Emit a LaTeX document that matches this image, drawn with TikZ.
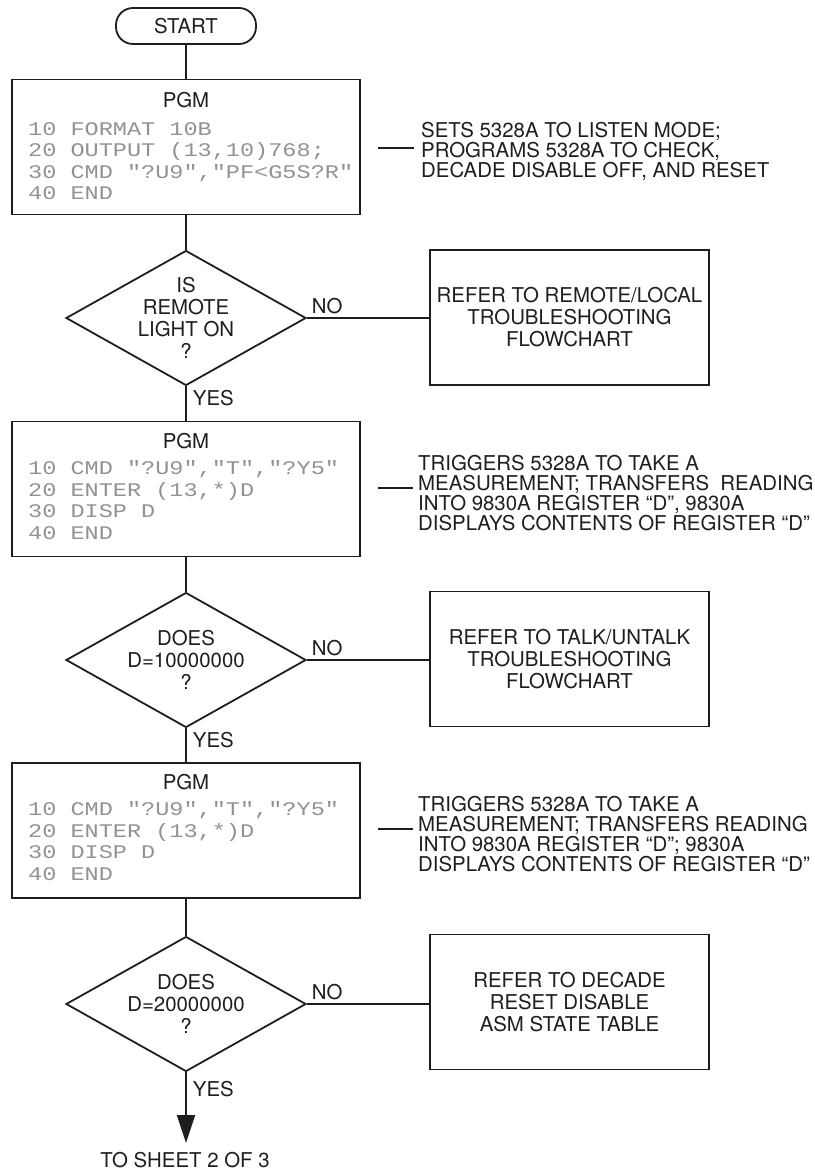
\documentclass[tikz,border=0pt]{standalone}
\usepackage{fontspec}
\setmainfont{TeX Gyre Heros}
\newfontfamily\codefont{Liberation Mono}[FakeStretch=1.22]
\usetikzlibrary{shapes.geometric,arrows.meta}
\definecolor{ink}{HTML}{1E1E1E}
\definecolor{codegray}{HTML}{929292}
\begin{document}
\begin{tikzpicture}[x=1pt,y=-1pt,
  every node/.style={font=\fontsize{20.4}{22}\selectfont, text=ink},
  flow/.style={draw=ink, line width=1.8pt},
  terminal/.style={draw=ink, line width=1.8pt, rounded corners=17pt,
    minimum width=140pt, minimum height=36pt, inner sep=0pt},
  pgmbox/.style={draw=ink, line width=1.8pt, minimum width=348pt,
    minimum height=135pt, inner sep=0pt},
  decision/.style={diamond, draw=ink, line width=1.8pt, minimum width=240pt,
    minimum height=135pt, inner sep=0pt},
  referbox/.style={draw=ink, line width=1.8pt, minimum width=279pt,
    minimum height=135pt, align=center, inner sep=0pt},
  code/.style={font=\codefont\fontsize{19.3}{21.5}\selectfont, text=codegray,
    align=left, anchor=west, inner sep=0pt},
  note/.style={font=\fontsize{20.4}{20}\selectfont, align=left, anchor=west,
    inner sep=0pt},
  yes/.style={anchor=west, inner sep=0pt, xshift=6pt},
  no/.style={anchor=south west, inner sep=0pt, xshift=4pt, yshift=3pt},
  tip/.style={-{Triangle[width=18pt,length=28pt]}},
]
\useasboundingbox (0,0) rectangle (814,1170);

% main column
\node[terminal] (start) at (186,26) {START};

\node[pgmbox] (p1) at (186,147) {};
\node (p1t) at (186,100) {PGM};
\node[code] (p1c) at (28,161) {10 FORMAT 10B\\20 OUTPUT (13,10)768;\\30 CMD "?U9","PF<G5S?R"\\40 END};

\node[decision, label={[align=center]center:IS\\REMOTE\\LIGHT ON\\?}] (d1) at (186,318) {};

\node[pgmbox] (p2) at (186,489) {};
\node (p2t) at (186,441) {PGM};
\node[code] (p2c) at (28,500) {10 CMD "?U9","T","?Y5"\\20 ENTER (13,*)D\\30 DISP D\\40 END};

\node[decision, label={[align=center]center:DOES\\D=10000000\\?}] (d2) at (186,660) {};

\node[pgmbox] (p3) at (186,830.5) {};
\node (p3t) at (186,782) {PGM};
\node[code] (p3c) at (28,841) {10 CMD "?U9","T","?Y5"\\20 ENTER (13,*)D\\30 DISP D\\40 END};

\node[decision, label={[align=center]center:DOES\\D=20000000\\?}] (d3) at (186,1004) {};

\coordinate (end) at (186,1143);
\node (sheet) at (185,1160) {TO SHEET 2 OF 3};

% side boxes
\node[referbox] (r1) at (569.5,317.5) {REFER TO REMOTE/LOCAL\\TROUBLESHOOTING\\FLOWCHART};
\node[referbox] (r2) at (569.5,659) {REFER TO TALK/UNTALK\\TROUBLESHOOTING\\FLOWCHART};
\node[referbox] (r3) at (569.5,1002) {REFER TO DECADE\\RESET DISABLE\\ASM STATE TABLE};

% comments
\node[note] (n1) at (421,151) {SETS 5328A TO LISTEN MODE;\\PROGRAMS 5328A TO CHECK,\\DECADE DISABLE OFF, AND RESET};
\node[note] (n2) at (418,493) {TRIGGERS 5328A TO TAKE A\\MEASUREMENT; TRANSFERS~ READING\\INTO 9830A REGISTER “D”, 9830A\\DISPLAYS CONTENTS OF REGISTER “D”};
\node[note] (n3) at (418,834) {TRIGGERS 5328A TO TAKE A\\MEASUREMENT; TRANSFERS READING\\INTO 9830A REGISTER “D”; 9830A\\DISPLAYS CONTENTS OF REGISTER “D”};
\coordinate (m1) at (378,148);
\coordinate (m2) at (378,488);
\coordinate (m3) at (378,829);
\draw[flow, shorten >=7pt] (m1) -- (m1 -| n1.west);
\draw[flow, shorten >=5pt] (m2) -- (m2 -| n2.west);
\draw[flow, shorten >=5pt] (m3) -- (m3 -| n3.west);

% connectors
\draw[flow] (start) -- (p1);
\draw[flow] (p1) -- (d1);
\draw[flow] (d1) -- node[yes, pos=0.35] {YES} (p2);
\draw[flow] (p2) -- (d2);
\draw[flow] (d2) -- node[yes, pos=0.35] {YES} (p3);
\draw[flow] (p3) -- (d3);
\draw[flow, tip] (d3) -- node[yes, pos=0.24] {YES} (end);
\draw[flow] (d1.east) -- node[no, pos=0] {NO} (r1.west |- d1.east);
\draw[flow] (d2.east) -- node[no, pos=0] {NO} (r2.west |- d2.east);
\draw[flow] (d3.east) -- node[no, pos=0] {NO} (r3.west |- d3.east);
\end{tikzpicture}
\end{document}
